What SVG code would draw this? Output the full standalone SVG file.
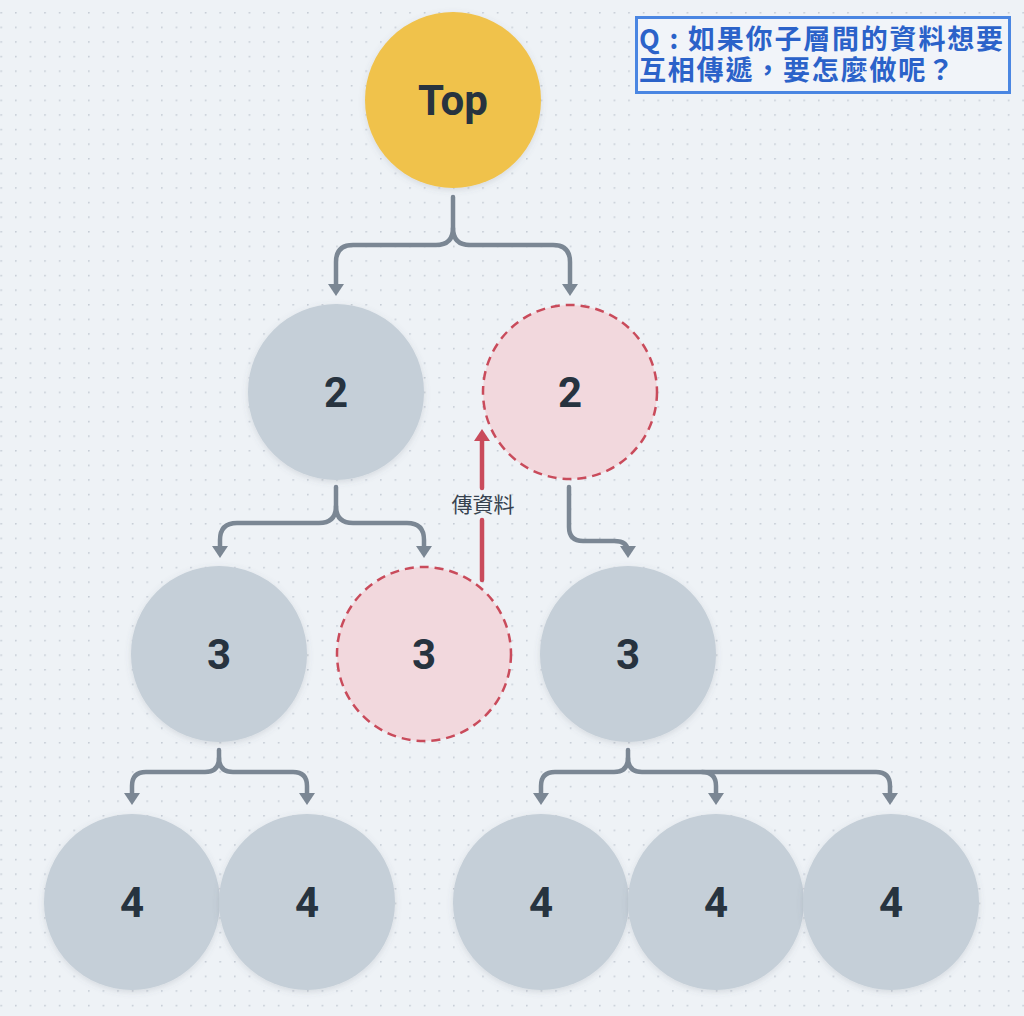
<svg xmlns="http://www.w3.org/2000/svg" xmlns:xlink="http://www.w3.org/1999/xlink" width="1024" height="1016" viewBox="0 0 1024 1016">
<defs>
<pattern id="dots" patternUnits="userSpaceOnUse" x="0.4" y="12" width="14.6" height="14.6">
<circle cx="0.8" cy="0.8" r="0.9" fill="#c3cad3"/>
</pattern>
<filter id="sh" x="-20%" y="-20%" width="140%" height="140%">
<feDropShadow dx="0" dy="2" stdDeviation="3" flood-color="#5a6675" flood-opacity="0.18"/>
</filter>
<path id="ah" d="M-8,-12 L8,-12 L0,0 Z" fill="#7b8794"/>
<path id="ahr" d="M-8,12 L8,12 L0,0 Z" fill="#c94b5b"/>
</defs>
<style>
.gray{fill:#c5cfd8;filter:url(#sh)}
.top{fill:#f0c24b;filter:url(#sh)}
.pink{fill:#f2d8dd;stroke:#c94b5b;stroke-width:2.5;stroke-dasharray:9 6}
.num{font-family:Roboto,"DejaVu Sans",sans-serif;font-weight:700;font-size:42px;fill:#27333f;text-anchor:middle}
.conn{fill:none;stroke:#7b8794;stroke-width:4.5;stroke-linecap:round;stroke-linejoin:round}
.red{fill:none;stroke:#c94b5b;stroke-width:4.5;stroke-linecap:round}
.lbl{font-family:"Noto Sans CJK TC","Noto Sans",sans-serif;font-size:21px;fill:#36424f;text-anchor:middle}
.q{font-family:"Noto Sans CJK TC","Noto Sans",sans-serif;font-weight:700;font-size:27px;letter-spacing:1.8px;fill:#2b62c9}
</style>
<rect width="1024" height="1016" fill="#eef2f6"/>
<rect width="1024" height="1016" fill="url(#dots)"/>

<g id="connectors">
<path class="conn" d="M453,197 V228 Q453,245 436,245 H353 Q336,245 336,262 V286"/>
<path class="conn" d="M453,228 Q453,245 470,245 H553 Q570,245 570,262 V286"/>
<use href="#ah" x="336" y="296"/>
<use href="#ah" x="570" y="296"/>

<path class="conn" d="M336,487 V506 Q336,523 319,523 H237 Q220,523 220,540 V548"/>
<path class="conn" d="M336,506 Q336,523 353,523 H407 Q424,523 424,540 V548"/>
<use href="#ah" x="220" y="558"/>
<use href="#ah" x="424" y="558"/>

<path class="conn" d="M569,487 V527 Q569,541 583,541 H614 Q628,541 628,552"/>
<use href="#ah" x="628" y="558"/>

<path class="conn" d="M219,750 V758 Q219,772 205,772 H146 Q132,772 132,786 V795"/>
<path class="conn" d="M219,758 Q219,772 233,772 H293 Q307,772 307,786 V795"/>
<use href="#ah" x="132" y="805"/>
<use href="#ah" x="307" y="805"/>

<path class="conn" d="M628,750 V758 Q628,772 614,772 H555 Q541,772 541,786 V795"/>
<path class="conn" d="M628,758 Q628,772 642,772 H876 Q890,772 890,786 V795"/>
<path class="conn" d="M702,772 Q716,772 716,786 V795"/>
<use href="#ah" x="541" y="805"/>
<use href="#ah" x="716" y="805"/>
<use href="#ah" x="890" y="805"/>

<path class="red" d="M482,580 V520 M482,488 V438"/>
<use href="#ahr" x="482" y="429"/>
<text class="lbl" x="483" y="512">傳資料</text>
</g>

<g id="node-top"><circle class="top" cx="453" cy="100" r="88"/><text class="num" x="453" y="115">Top</text></g>
<g id="node-2a"><circle class="gray" cx="336" cy="392" r="88"/><text class="num" x="336" y="407">2</text></g>
<g id="node-2b"><circle class="pink" cx="570" cy="392" r="87"/><text class="num" x="570" y="407">2</text></g>
<g id="node-3a"><circle class="gray" cx="219" cy="654" r="88"/><text class="num" x="219" y="669">3</text></g>
<g id="node-3b"><circle class="pink" cx="424" cy="654" r="87"/><text class="num" x="424" y="669">3</text></g>
<g id="node-3c"><circle class="gray" cx="628" cy="654" r="88"/><text class="num" x="628" y="669">3</text></g>
<g id="node-4a"><circle class="gray" cx="132" cy="902" r="88"/><text class="num" x="132" y="917">4</text></g>
<g id="node-4b"><circle class="gray" cx="307" cy="902" r="88"/><text class="num" x="307" y="917">4</text></g>
<g id="node-4c"><circle class="gray" cx="541" cy="902" r="88"/><text class="num" x="541" y="917">4</text></g>
<g id="node-4d"><circle class="gray" cx="716" cy="902" r="88"/><text class="num" x="716" y="917">4</text></g>
<g id="node-4e"><circle class="gray" cx="891" cy="902" r="88"/><text class="num" x="891" y="917">4</text></g>

<g id="question">
<rect x="636.5" y="17.5" width="373" height="75" fill="#f1f4f9" stroke="#4a86e2" stroke-width="3"/>
<text class="q"><tspan x="639" y="49">Q : 如果你子層間的資料想要</tspan><tspan x="639" y="80">互相傳遞，要怎麼做呢？</tspan></text>
</g>
</svg>
